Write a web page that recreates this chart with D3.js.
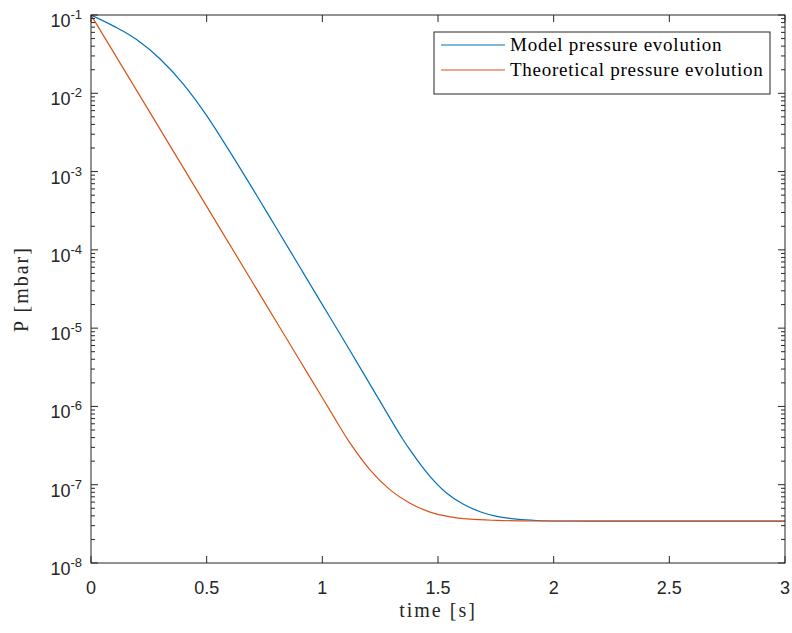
<!DOCTYPE html>
<html>
<head>
<meta charset="utf-8">
<script src="https://cdn.jsdelivr.net/npm/d3@7"></script>
<style>
  body { margin: 0; background: #fff; }
  svg { display: block; }
</style>
</head>
<body>
<div id="chart"></div>
<script>
// values
var seriesNames = ["Model pressure evolution", "Theoretical pressure evolution"];
var seriesColors = ["#0072BD", "#D95319"];

var tModel = [0, 0.1, 0.2, 0.3, 0.4, 0.5, 0.6, 0.7, 0.8, 0.9, 1.0, 1.1, 1.249, 1.35, 1.379, 1.466, 1.538, 1.61, 1.682, 1.754, 1.84, 1.927, 2.028, 2.2, 2.5, 3.0];
var pModel = [0.1, 7.16e-2, 4.79e-2, 2.72e-2, 1.30e-2, 5.19e-3, 1.80e-3, 5.96e-4, 1.93e-4, 6.21e-5, 2.0e-5, 6.46e-6, 1.17e-6, 3.73e-7, 2.78e-7, 1.27e-7, 7.78e-8, 5.62e-8, 4.52e-8, 3.94e-8, 3.63e-8, 3.49e-8, 3.44e-8, 3.42e-8, 3.42e-8, 3.42e-8];

var tTheory = [0, 0.25, 0.5, 0.75, 0.9, 1.0, 1.033, 1.12, 1.206, 1.293, 1.379, 1.466, 1.552, 1.639, 1.754, 1.9, 2.2, 2.5, 3.0];
var pTheory = [0.1, 6.0e-3, 3.59e-4, 2.15e-5, 3.98e-6, 1.29e-6, 8.9e-7, 3.39e-7, 1.55e-7, 8.6e-8, 5.8e-8, 4.47e-8, 3.89e-8, 3.63e-8, 3.5e-8, 3.44e-8, 3.42e-8, 3.42e-8, 3.42e-8];

var xTicks = [0, 0.5, 1, 1.5, 2, 2.5, 3];
var xTickLabels = ["0", "0.5", "1", "1.5", "2", "2.5", "3"];
var yExponents = [-1, -2, -3, -4, -5, -6, -7, -8];

var width = 792, height = 633,
    margin = {top: 15, right: 7, bottom: 70, left: 91};

var axisColor = "#262626";

var svg = d3.select("#chart").append("svg")
  .attr("width", width)
  .attr("height", height);

var x = d3.scaleLinear()
  .domain([0, 3])
  .range([margin.left, width - margin.right]);

var y = d3.scaleLog()
  .domain([1e-8, 1e-1])
  .range([height - margin.bottom, margin.top]);

var x0 = x.range()[0], x1 = x.range()[1],
    y0 = y.range()[0], y1 = y.range()[1];

// series
var line = d3.line()
  .x(function(d) { return x(d[0]); })
  .y(function(d) { return y(d[1]); })
  .curve(d3.curveMonotoneX);

var series = [
  d3.zip(tModel, pModel),
  d3.zip(tTheory, pTheory)
];

svg.append("defs").append("clipPath").attr("id", "clip")
  .append("rect")
  .attr("x", x0).attr("y", y1)
  .attr("width", x1 - x0).attr("height", y0 - y1);

svg.append("g")
  .attr("clip-path", "url(#clip)")
  .selectAll("path")
  .data(series)
  .enter()
  .append("path")
  .attr("d", line)
  .style("fill", "none")
  .style("stroke", function(d, i) { return seriesColors[i]; })
  .style("stroke-width", 1.2);

// ticks (inside, on all four sides)
var ticks = svg.append("g")
  .style("stroke", axisColor)
  .style("stroke-width", 1);

xTicks.forEach(function(v) {
  ticks.append("line")
    .attr("x1", x(v)).attr("x2", x(v))
    .attr("y1", y0).attr("y2", y0 - 7);
  ticks.append("line")
    .attr("x1", x(v)).attr("x2", x(v))
    .attr("y1", y1).attr("y2", y1 + 7);
});

y.ticks().forEach(function(v) {
  var major = Math.abs(Math.log10(v) - Math.round(Math.log10(v))) < 1e-9;
  var len = major ? 7 : 4;
  ticks.append("line")
    .attr("x1", x0).attr("x2", x0 + len)
    .attr("y1", y(v)).attr("y2", y(v));
  ticks.append("line")
    .attr("x1", x1).attr("x2", x1 - len)
    .attr("y1", y(v)).attr("y2", y(v));
});

// box
svg.append("rect")
  .attr("x", x0).attr("y", y1)
  .attr("width", x1 - x0).attr("height", y0 - y1)
  .style("fill", "none")
  .style("stroke", axisColor)
  .style("stroke-width", 1);

// tick labels
svg.append("g")
  .selectAll("text")
  .data(xTicks)
  .enter()
  .append("text")
  .attr("x", function(d) { return x(d); })
  .attr("y", y0 + 31)
  .attr("text-anchor", "middle")
  .style("font", "18px 'Liberation Sans', Arial, sans-serif")
  .style("fill", axisColor)
  .text(function(d, i) { return xTickLabels[i]; });

var ylab = svg.append("g")
  .selectAll("text")
  .data(yExponents)
  .enter()
  .append("text")
  .attr("x", x0 - 9)
  .attr("y", function(d) { return y(Math.pow(10, d)) + 12; })
  .attr("text-anchor", "end")
  .style("font", "18px 'Liberation Sans', Arial, sans-serif")
  .style("fill", axisColor);
ylab.append("tspan").text("10");
ylab.append("tspan")
  .attr("dy", -8)
  .style("font-size", "13px")
  .text(function(d) { return "-" + Math.abs(d); });

// axis titles
var titleFont = "20px 'Liberation Serif', 'Times New Roman', serif";

svg.append("text")
  .attr("x", (x0 + x1) / 2)
  .attr("y", 617)
  .attr("text-anchor", "middle")
  .style("font", titleFont)
  .style("letter-spacing", "2px")
  .style("fill", axisColor)
  .text("time [s]");

svg.append("text")
  .attr("transform", "translate(28," + ((y0 + y1) / 2) + ") rotate(-90)")
  .attr("text-anchor", "middle")
  .style("font", titleFont)
  .style("letter-spacing", "2px")
  .style("fill", axisColor)
  .text("P [mbar]");

// legend
var legend = svg.append("g").attr("transform", "translate(434,32)");
legend.append("rect")
  .attr("width", 336).attr("height", 62)
  .style("fill", "#fff")
  .style("stroke", axisColor)
  .style("stroke-width", 1);

var item = legend.selectAll("g.item")
  .data(seriesNames)
  .enter()
  .append("g")
  .attr("class", "item")
  .attr("transform", function(d, i) { return "translate(0," + (13 + i * 25) + ")"; });

item.append("line")
  .attr("x1", 7).attr("x2", 71)
  .style("stroke", function(d, i) { return seriesColors[i]; })
  .style("stroke-width", 1.2);

item.append("text")
  .attr("x", 76)
  .attr("y", 6)
  .style("font", "19px 'Liberation Serif', 'Times New Roman', serif")
  .style("letter-spacing", "0.75px")
  .style("fill", "#000")
  .text(function(d) { return d; });
</script>
</body>
</html>
